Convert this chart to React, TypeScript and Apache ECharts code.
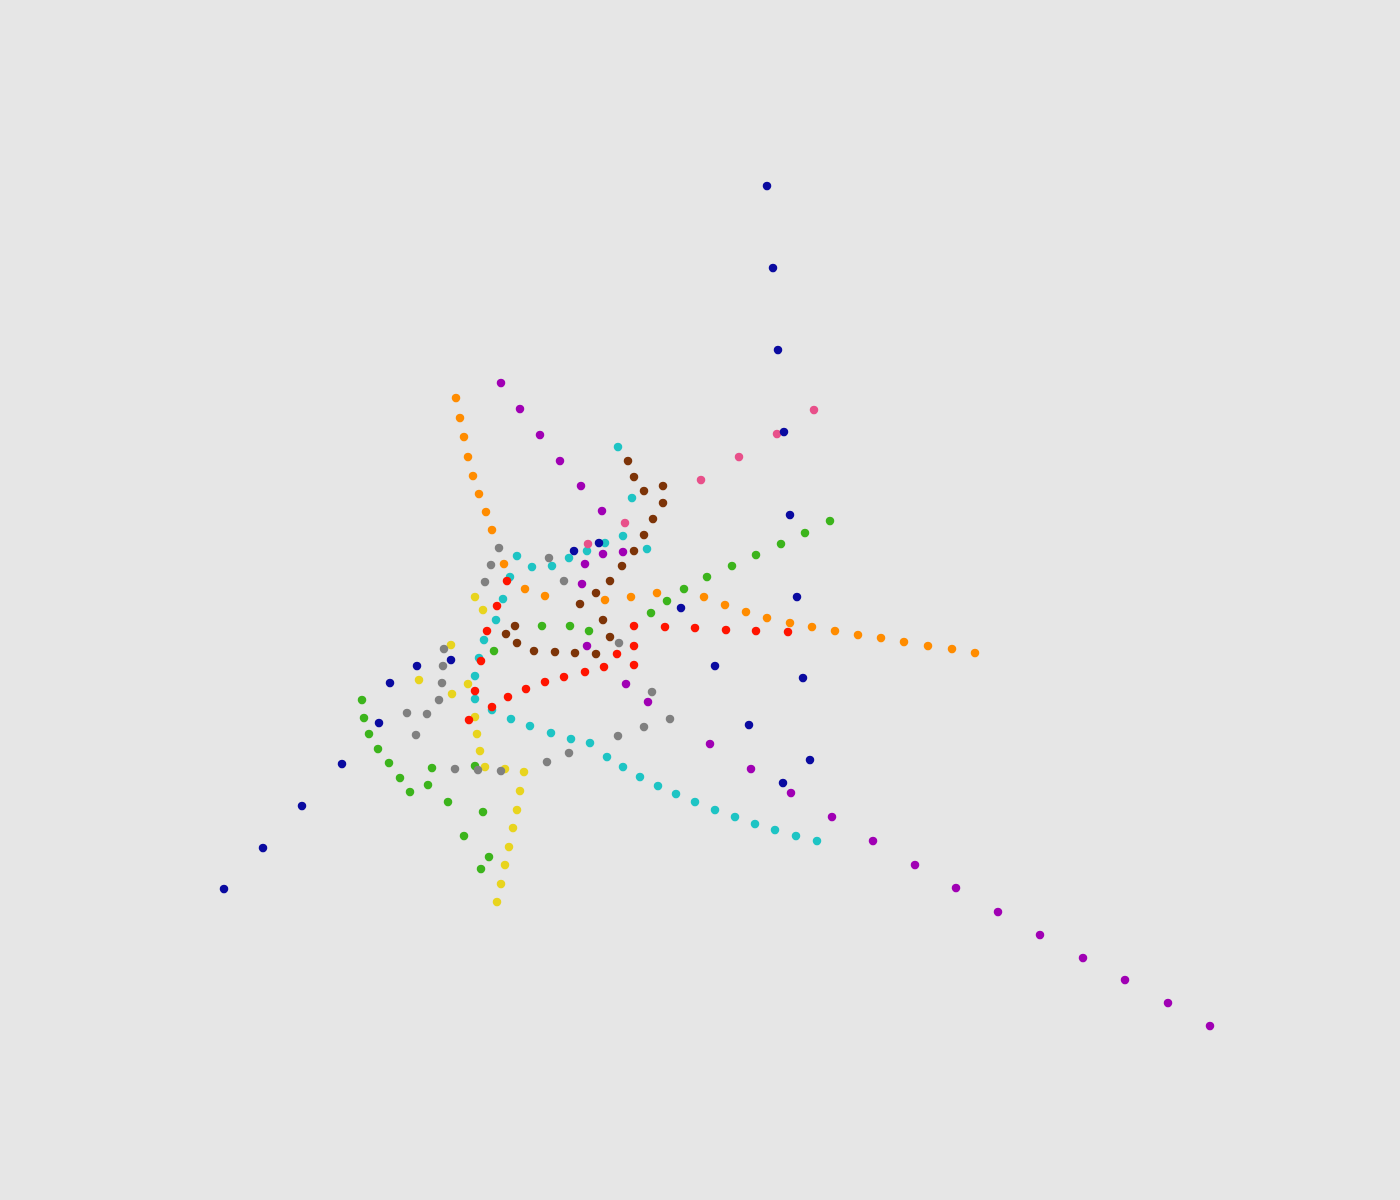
import React, { useEffect, useRef } from "react";
import * as echarts from "echarts";

const cyanPts: number[][] = [[618,447],[632,498],[623,536],[647,549],[605,543],[587,551],[569,558],[552,566],[532,567],[517,556],[510,577],[503,599],[496,620],[484,640],[479,658],[475,676],[475,699],[492,710],[511,719],[530,726],[551,733],[571,739],[590,743],[607,757],[623,767],[640,777],[658,786],[676,794],[695,802],[715,810],[735,817],[755,824],[775,830],[796,836],[817,841]];
const pinkPts: number[][] = [[814,410],[777,434],[739,457],[701,480],[625,523],[588,544]];
const yellowPts: number[][] = [[475,597],[483,610],[451,645],[419,680],[468,684],[452,694],[475,717],[477,734],[480,751],[485,767],[505,769],[524,772],[520,791],[517,810],[513,828],[509,847],[505,865],[501,884],[497,902]];
const greenPts: number[][] = [[830,521],[805,533],[781,544],[756,555],[732,566],[707,577],[684,589],[667,601],[651,613],[589,631],[570,626],[542,626],[494,651],[362,700],[364,718],[369,734],[378,749],[389,763],[400,778],[410,792],[428,785],[432,768],[475,766],[448,802],[483,812],[464,836],[489,857],[481,869]];
const orangePts: number[][] = [[456,398],[460,418],[464,437],[468,457],[473,476],[479,494],[486,512],[492,530],[504,564],[525,589],[545,596],[605,600],[631,597],[657,593],[704,597],[725,605],[746,612],[767,618],[790,623],[812,627],[835,631],[858,635],[881,638],[904,642],[928,646],[952,649],[975,653]];
const brownPts: number[][] = [[628,461],[634,477],[644,491],[663,486],[663,503],[653,519],[644,535],[634,551],[622,566],[610,581],[596,593],[580,604],[603,620],[610,637],[596,654],[575,653],[555,652],[534,651],[517,643],[506,634],[515,626]];
const purplePts: number[][] = [[501,383],[520,409],[540,435],[560,461],[581,486],[602,511],[603,554],[623,552],[585,564],[582,584],[587,646],[626,684],[648,702],[710,744],[751,769],[791,793],[832,817],[873,841],[915,865],[956,888],[998,912],[1040,935],[1083,958],[1125,980],[1168,1003],[1210,1026]];
const redPts: number[][] = [[507,581],[497,606],[487,631],[481,661],[475,691],[469,720],[492,707],[508,697],[526,689],[545,682],[564,677],[585,672],[604,667],[617,654],[634,665],[634,646],[634,626],[665,627],[695,628],[726,630],[756,631],[788,632]];
const bluePts: number[][] = [[767,186],[773,268],[778,350],[784,432],[790,515],[797,597],[803,678],[810,760],[224,889],[263,848],[302,806],[342,764],[379,723],[390,683],[417,666],[451,660],[574,551],[599,543],[681,608],[715,666],[749,725],[783,783]];
const grayPts: number[][] = [[499,548],[491,565],[549,558],[485,582],[564,581],[444,649],[443,666],[442,683],[439,700],[427,714],[407,713],[416,735],[455,769],[478,770],[501,771],[547,762],[569,753],[618,736],[644,727],[670,719],[652,692],[619,643]];

const seriesDefs: [string, number[][], string][] = [
  ["cyan", cyanPts, "#1ec4c4"],
  ["pink", pinkPts, "#e8508a"],
  ["yellow", yellowPts, "#e8d41e"],
  ["green", greenPts, "#3cb41c"],
  ["orange", orangePts, "#ff8c00"],
  ["brown", brownPts, "#7d3408"],
  ["purple", purplePts, "#a000b4"],
  ["red", redPts, "#ff1400"],
  ["blue", bluePts, "#0a0aa0"],
  ["gray", grayPts, "#808080"],
];

export default function App() {
  const ref = useRef<HTMLDivElement>(null);
  useEffect(() => {
    document.body.style.margin = "0";
    document.body.style.background = "#e6e6e6";
    const chart = echarts.init(ref.current!, undefined, { renderer: "svg" });
    chart.setOption({
      animation: false,
      backgroundColor: "#e6e6e6",
      grid: { left: 0, right: 0, top: 0, bottom: 0 },
      xAxis: { type: "value", min: 0, max: 1400, show: false },
      yAxis: { type: "value", min: 0, max: 1200, inverse: true, show: false },
      series: seriesDefs.map(([name, pts, color]) => ({
        name,
        type: "scatter",
        data: pts,
        symbol: "circle",
        symbolSize: 8.5,
        itemStyle: { color, opacity: 1 },
        emphasis: { disabled: true },
      })),
    });
    return () => chart.dispose();
  }, []);
  return <div ref={ref} style={{ width: 1400, height: 1200 }} />;
}
